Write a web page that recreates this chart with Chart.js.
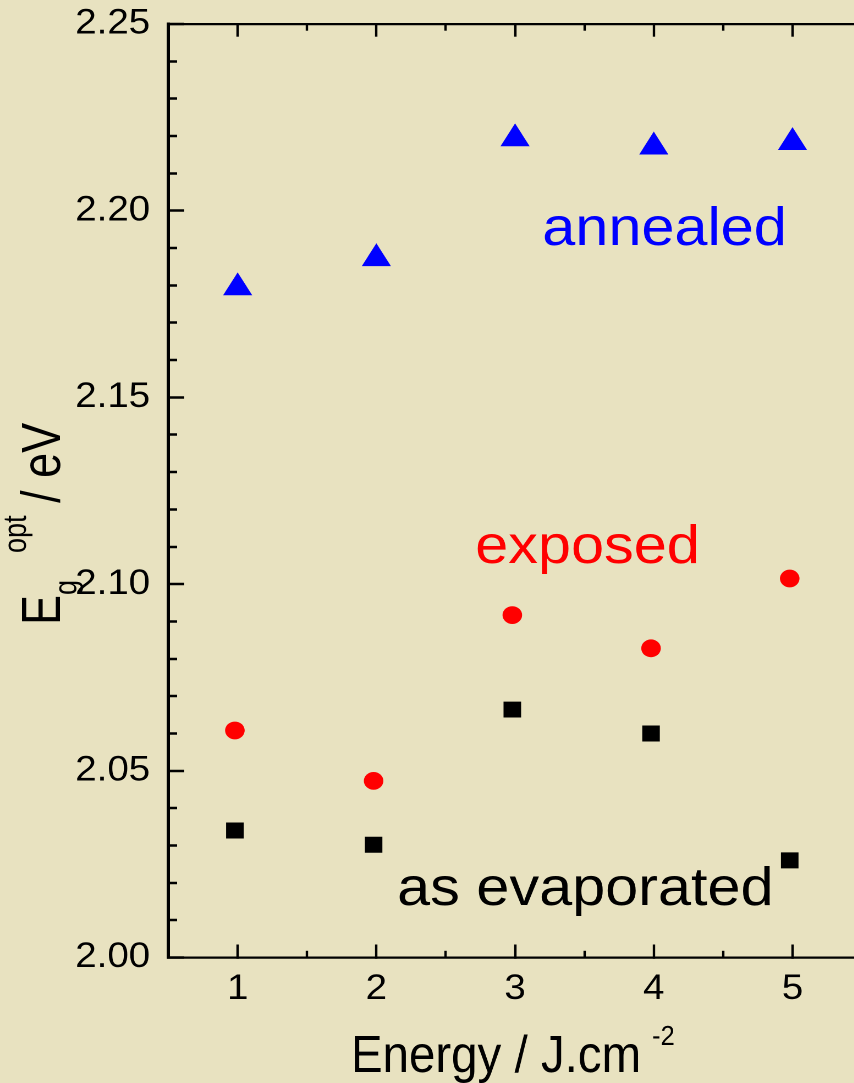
<!DOCTYPE html>
<html><head><meta charset="utf-8">
<script src="https://cdn.jsdelivr.net/npm/chart.js@4"></script>
<style>
html,body{margin:0;padding:0;width:854px;height:1083px;overflow:hidden;background:#e8e2c0;}
#wrap{position:absolute;left:0;top:0;width:790px;height:1083px;transform:scaleX(1.1);transform-origin:0 0;}
canvas{display:block;}
</style></head><body>
<div id="wrap"><canvas id="c" width="790" height="1083"></canvas></div>
<script>
// ---- data ----
const energyAnnealed = [1, 2, 3, 4, 5];
const energyOther = [0.98, 1.98, 2.98, 3.98, 4.98];
const annealed = [2.1794, 2.1872, 2.2193, 2.2171, 2.2183];
const exposed = [2.0608, 2.0473, 2.0917, 2.0828, 2.1015];
const asEvaporated = [2.0340, 2.0302, 2.0664, 2.0600, 2.0260];
const xMajorTicks = [1, 2, 3, 4, 5];
const xMinorTicks = [1.5, 2.5, 3.5, 4.5];
const yMajorTicks = [2.00, 2.05, 2.10, 2.15, 2.20, 2.25];
const yMinorTicks = [2.01,2.02,2.03,2.04,2.06,2.07,2.08,2.09,2.11,2.12,2.13,2.14,2.16,2.17,2.18,2.19,2.21,2.22,2.23,2.24];
const seriesNames = ['annealed', 'exposed', 'as evaporated'];

const FONT = "'Liberation Sans', Arial, Helvetica, sans-serif";
const pts = (xs, ys) => xs.map((x, i) => ({x, y: ys[i]}));
const setTicks = list => s => { s.ticks = list.map(v => ({value: v})); };
const fixSize = (w, h) => s => {
  if (w !== null) s.width = w;
  if (h !== null) s.height = h;
  s.paddingTop = 0; s.paddingBottom = 0; s.paddingLeft = 0; s.paddingRight = 0;
};

function drawRun(ctx, x, y, angle, cond, pieces, color) {
  ctx.save();
  ctx.translate(x, y); ctx.rotate(angle); ctx.scale(cond, 1);
  ctx.fillStyle = color; ctx.textAlign = 'left'; ctx.textBaseline = 'alphabetic';
  let cx = 0;
  for (const p of pieces) {
    ctx.font = p.size + 'px ' + FONT;
    cx += (p.gap || 0);
    ctx.fillText(p.text, cx, p.dy || 0);
    cx += ctx.measureText(p.text).width;
  }
  ctx.restore();
}

const textPlugin = {
  id: 'texts',
  afterDraw(chart) {
    const ctx = chart.ctx;
    // series labels
    drawRun(ctx, 493, 245, 0, 1, [{text: seriesNames[0], size: 54}], '#0000ff');
    drawRun(ctx, 432, 563, 0, 1, [{text: seriesNames[1], size: 54}], '#ff0000');
    drawRun(ctx, 361, 905, 0, 1, [{text: seriesNames[2], size: 54}], '#000000');
    // x title
    drawRun(ctx, 319, 1072, 0, 0.83, [
      {text: 'Energy / J.cm', size: 52},
      {text: '-2', size: 28, dy: -27, gap: 12}
    ], '#000');
    // y title
    drawRun(ctx, 54.5, 625, -Math.PI / 2, 0.9, [
      {text: 'E', size: 50},
      {text: 'g', size: 30, dy: 15},
      {text: 'opt', size: 30, dy: -31, gap: 30},
      {text: ' / eV', size: 50}
    ], '#000');
  }
};

const tickFont = {family: FONT, size: 35};

new Chart(document.getElementById('c'), {
  type: 'scatter',
  data: {
    datasets: [
      {label: seriesNames[0], data: pts(energyAnnealed, annealed), pointStyle: 'triangle', pointRadius: 15.3,
       backgroundColor: '#0000ff', borderColor: '#0000ff', borderWidth: 0, xAxisID: 'x', yAxisID: 'y'},
      {label: seriesNames[1], data: pts(energyOther, exposed), pointStyle: 'circle', pointRadius: 8.9,
       backgroundColor: '#ff0000', borderColor: '#ff0000', borderWidth: 0, xAxisID: 'x', yAxisID: 'y'},
      {label: seriesNames[2], data: pts(energyOther, asEvaporated), pointStyle: 'rect', pointRadius: 11.3,
       backgroundColor: '#000000', borderColor: '#000000', borderWidth: 0, xAxisID: 'x', yAxisID: 'y'}
    ]
  },
  options: {
    responsive: false, animation: false, devicePixelRatio: 2, events: [],
    layout: {autoPadding: false, padding: {left: 0, right: 6.5, top: 0, bottom: 0}},
    plugins: {legend: {display: false}, tooltip: {enabled: false}},
    scales: {
      x: {type: 'linear', position: 'bottom', min: 0.5, max: 5.5, weight: 1,
        afterBuildTicks: setTicks(xMajorTicks),
        ticks: {font: tickFont, color: '#000', padding: 24, maxRotation: 0, autoSkip: false, callback: v => String(v)},
        grid: {drawOnChartArea: false, tickLength: -13, tickWidth: 2.2, tickColor: '#000'},
        border: {display: true, color: '#000', width: 2.3},
        afterFit: fixSize(null, 125.5)},
      xMinor: {type: 'linear', position: 'bottom', min: 0.5, max: 5.5, weight: 0,
        afterBuildTicks: setTicks(xMinorTicks),
        ticks: {display: false},
        grid: {drawOnChartArea: false, tickLength: -6.7, tickWidth: 2.2, tickColor: '#000'},
        border: {display: false},
        afterFit: fixSize(null, 0)},
      xTop: {type: 'linear', position: 'top', min: 0.5, max: 5.5, weight: 1,
        afterBuildTicks: setTicks(xMajorTicks),
        ticks: {display: false},
        grid: {drawOnChartArea: false, tickLength: -12.7, tickWidth: 2.2, tickColor: '#000'},
        border: {display: true, color: '#000', width: 2.3},
        afterFit: fixSize(null, 24)},
      xTopMinor: {type: 'linear', position: 'top', min: 0.5, max: 5.5, weight: 0,
        afterBuildTicks: setTicks(xMinorTicks),
        ticks: {display: false},
        grid: {drawOnChartArea: false, tickLength: -6.7, tickWidth: 2.2, tickColor: '#000'},
        border: {display: false},
        afterFit: fixSize(null, 0)},
      y: {type: 'linear', position: 'left', min: 2.0, max: 2.25, weight: 1,
        afterBuildTicks: setTicks(yMajorTicks),
        ticks: {font: tickFont, color: '#000', padding: 31, autoSkip: false, callback: v => Number(v).toFixed(2)},
        grid: {drawOnChartArea: false, tickLength: -14.5, tickWidth: 2.5, tickColor: '#000'},
        border: {display: true, color: '#000', width: 3},
        afterFit: fixSize(153, null)},
      yMinor: {type: 'linear', position: 'left', min: 2.0, max: 2.25, weight: 0,
        afterBuildTicks: setTicks(yMinorTicks),
        ticks: {display: false},
        grid: {drawOnChartArea: false, tickLength: -8, tickWidth: 2.5, tickColor: '#000'},
        border: {display: false},
        afterFit: fixSize(0, null)}
    }
  },
  plugins: [textPlugin]
});
</script>
</body></html>
